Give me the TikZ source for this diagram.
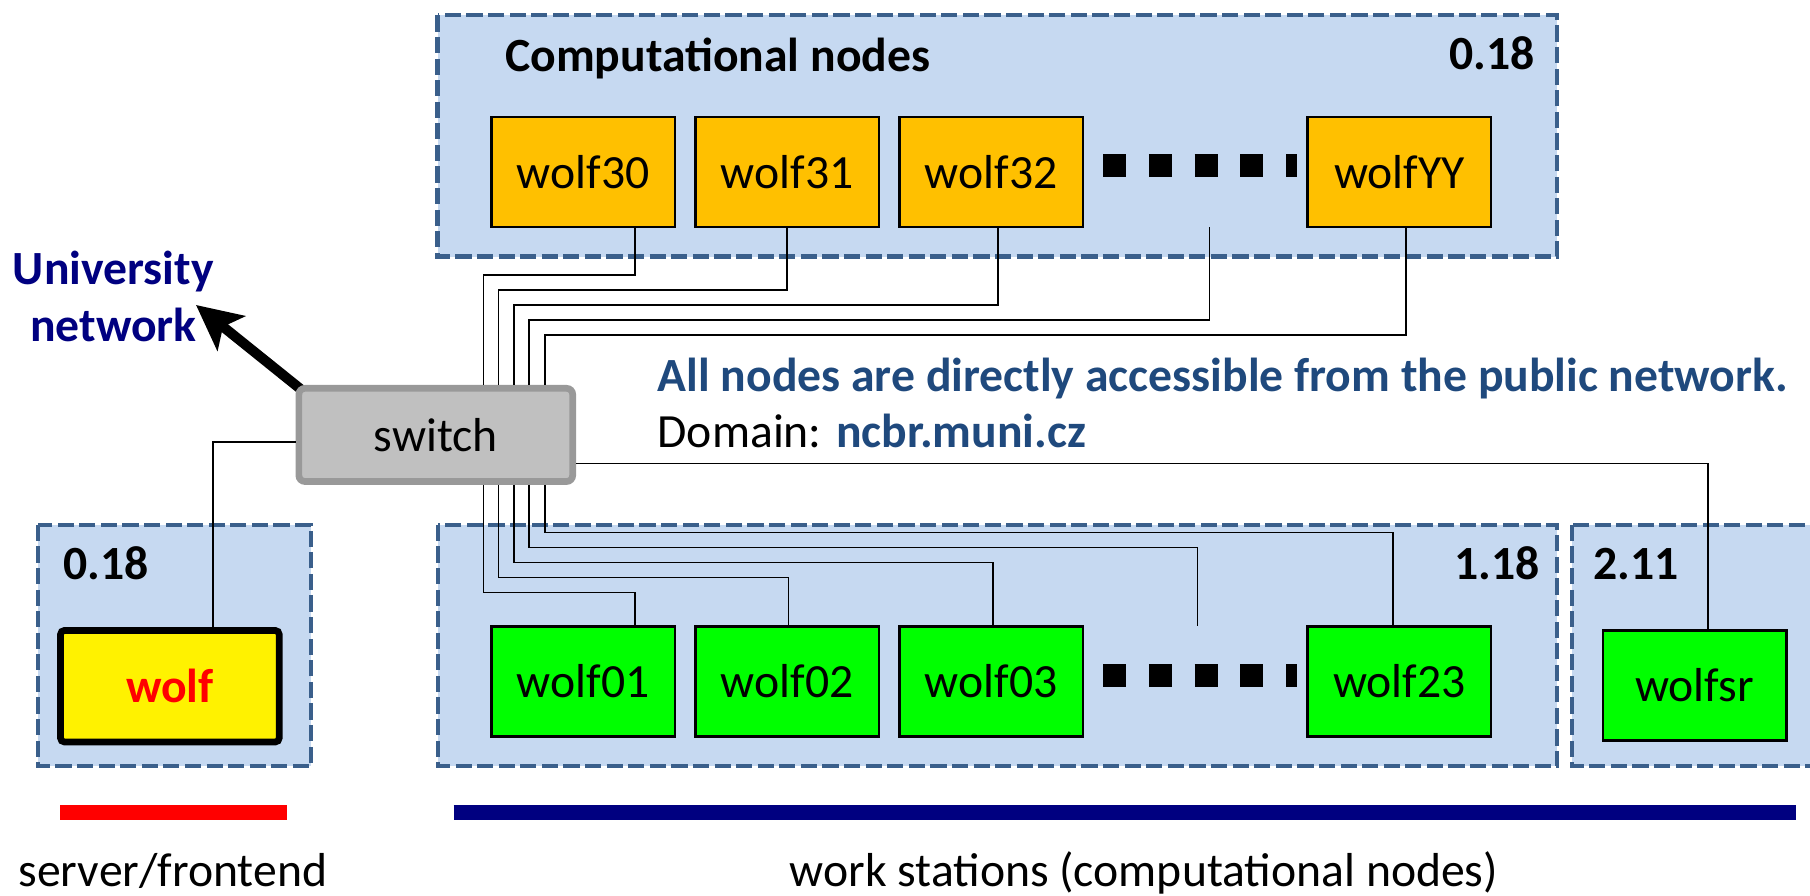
\documentclass[tikz,border=0pt]{standalone}
\usepackage{fontspec}
\setmainfont{Carlito}
\usetikzlibrary{positioning}
\usetikzlibrary{arrows.meta}
\usetikzlibrary{calc}
\usetikzlibrary{backgrounds}

\definecolor{grpfill}{HTML}{C6D9F1}
\definecolor{grpline}{HTML}{3A5F8B}
\definecolor{txtblue}{HTML}{1F497D}
\definecolor{navyblue}{HTML}{000080}
\definecolor{nodeorange}{HTML}{FFC000}
\definecolor{switchfill}{HTML}{C0C0C0}
\definecolor{switchline}{HTML}{999999}

\begin{document}
\begin{tikzpicture}[
    font=\fontsize{11.75}{14}\selectfont,
    grp/.style={draw=grpline, fill=grpfill, line width=1pt, dash pattern=on 0.14cm off 0.047cm},
    cnode/.style={rectangle, draw=black, line width=0.6pt, fill=nodeorange, minimum width=1.59cm, minimum height=0.953cm, inner sep=0pt},
    wnode/.style={cnode, fill=green},
    lbl/.style={inner sep=0pt, font=\fontsize{11.75}{14}\selectfont\bfseries},
    wire/.style={line width=0.4pt},
    dotrow/.style={line width=0.2cm, dash pattern=on 0.2cm off 0.196cm}
]
\useasboundingbox (0,0) rectangle (15.68,-7.754);
\clip (0,0) rectangle (15.68,-7.754);

% Groups
\draw[grp] (3.79,-0.133) rectangle (13.49,-2.222);
\draw[grp] (0.329,-4.546) rectangle (2.692,-6.639);
\draw[grp] (3.795,-4.546) rectangle (13.49,-6.639);
\draw[grp] (13.617,-4.546) rectangle (15.9,-6.639);

\node[lbl, anchor=base west] (compTitle) at (4.37,-0.62) {Computational nodes};
\node[lbl, anchor=base east] (netTop) at (13.30,-0.605) {0.18};
\node[lbl, anchor=base west] (netFront) at (0.54,-5.016) {0.18};
\node[lbl, anchor=base west] (netWs) at (12.59,-5.016) {1.18};
\node[lbl, anchor=base west] (netSr) at (13.80,-5.016) {2.11};

% Computational nodes
\node[cnode] (wolf30) at (5.051,-1.49) {wolf30};
\node[cnode] (wolf31) at (6.82,-1.49) {wolf31};
\node[cnode] (wolf32) at (8.587,-1.49) {wolf32};
\node[cnode] (wolfYY) at (12.123,-1.49) {wolfYY};
\draw[dotrow] (9.557,-1.437) -- (11.24,-1.437);

% Work stations
\node[wnode] (wolf01) at (5.051,-5.904) {wolf01};
\node[wnode] (wolf02) at (6.82,-5.904) {wolf02};
\node[wnode] (wolf03) at (8.587,-5.904) {wolf03};
\node[wnode] (wolf23) at (12.123,-5.904) {wolf23};
\node[wnode] (wolfsr) at (14.68,-5.939) {wolfsr};
\draw[dotrow] (9.557,-5.855) -- (11.24,-5.855);

% Server
\node[draw=black, line width=1.65pt, fill=yellow, rounded corners=1pt, minimum width=1.895cm, minimum height=0.967cm,
      text=red, font=\fontsize{11.75}{14}\selectfont\bfseries] (wolf) at (1.4715,-5.9445) {wolf};

% Switch
\node[draw=switchline, line width=1.65pt, fill=switchfill, rounded corners=1.5pt, minimum width=2.372cm, minimum height=0.807cm] (switch) at (3.775,-3.7675) {switch};

\coordinate (dotsTop) at (10.477,-1.964);
\coordinate (dotsBot) at (10.373,-5.42);
\coordinate (netTip) at (1.698,-2.642);

% Uplink
\begin{scope}[on background layer]
\draw[line width=0.087cm, -{Stealth[length=0.39cm, width=0.38cm, inset=0.09cm]}, shorten <=-0.08cm] (switch.north west) -- (netTip);
\end{scope}
\node[lbl, text=navyblue, align=center, anchor=base] (uninet) at (0.982,-2.96) {University\\network};

% Links up
\draw[wire] ([xshift=0.412cm]switch.north) -- ++(0,0.953) -| ([xshift=0.45cm]wolf30.south);
\draw[wire] ([xshift=0.545cm]switch.north) -- ++(0,0.823) -| (wolf31.south);
\draw[wire] ([xshift=0.678cm]switch.north) -- ++(0,0.693) -| ([xshift=0.057cm]wolf32.south);
\draw[wire] ([xshift=0.81cm]switch.north) -- ++(0,0.563) -| (dotsTop);
\draw[wire] ([xshift=0.944cm]switch.north) -- ++(0,0.433) -| ([xshift=0.058cm]wolfYY.south);

% Links down
\draw[wire] ([xshift=0.412cm]switch.south) -- ++(0,-0.932) -| ([xshift=0.45cm]wolf01.north);
\draw[wire] ([xshift=0.545cm]switch.south) -- ++(0,-0.802) -| ([xshift=0.01cm]wolf02.north);
\draw[wire] ([xshift=0.678cm]switch.south) -- ++(0,-0.672) -| ([xshift=0.014cm]wolf03.north);
\draw[wire] ([xshift=0.81cm]switch.south) -- ++(0,-0.542) -| (dotsBot);
\draw[wire] ([xshift=0.944cm]switch.south) -- ++(0,-0.412) -| ([xshift=-0.053cm]wolf23.north);
\draw[wire] ([yshift=-0.2465cm]switch.east) -| ([xshift=0.114cm]wolfsr.north);
\draw[wire] ([yshift=-0.059cm]switch.west) -| ([xshift=0.372cm]wolf.north);

\node[inner sep=0pt, align=left, anchor=base west] (note) at (5.69,-3.88)
  {\textbf{\color{txtblue}All nodes are directly accessible from the public network.}\\Domain: \textbf{\color{txtblue}ncbr.muni.cz}};

% Bottom legend
\draw[red, line width=0.13cm] (0.52,-7.035) -- (2.49,-7.035);
\draw[navyblue, line width=0.125cm] (3.93,-7.04) -- (15.56,-7.04);
\node[inner sep=0pt, anchor=base] (frontLbl) at (1.497,-7.68) {server/frontend};
\node[inner sep=0pt, anchor=base] (wsLbl) at (9.91,-7.68) {work stations (computational nodes)};

\end{tikzpicture}
\end{document}
